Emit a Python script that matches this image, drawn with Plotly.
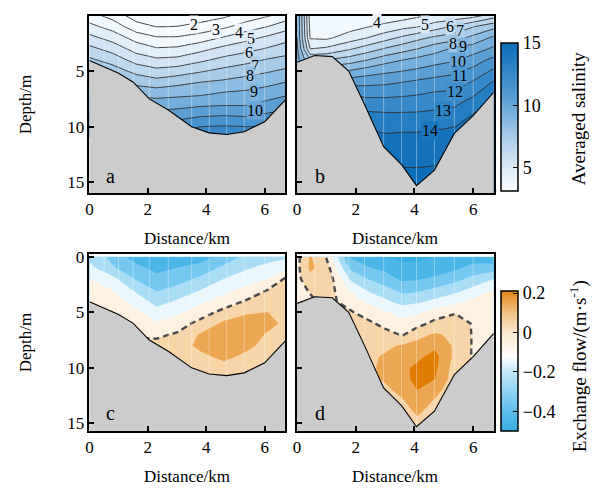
import numpy as np
import plotly.graph_objects as go

# ---------------- data ----------------
# Panel a / c grid (distance km, depth m)
X_AC = [0, 0.8, 1.6, 2.3, 3.0, 3.8, 4.6, 5.4, 6.1, 6.7]
D_AC = [0, 1, 2, 3, 4, 5, 6, 7, 8, 9, 10, 11]
# salinity, one list per distance column (depth 0..11)
SAL_A = [
    [3.4, 4.3, 5.3, 6.3, 7.2, 8.0, 8.8, 9.6, 10.4, 11.2, 12.0, 12.9],
    [2.6, 3.6, 4.6, 5.6, 6.6, 7.5, 8.4, 9.2, 10.0, 10.8, 11.6, 12.4],
    [1.5, 2.4, 3.6, 4.6, 5.6, 6.7, 7.7, 8.7, 9.7, 10.7, 11.6, 12.4],
    [1.4, 1.98, 3.1, 4.1, 5.2, 6.3, 7.4, 8.6, 9.5, 10.5, 11.4, 12.3],
    [1.4, 2.02, 3.1, 4.2, 5.3, 6.5, 7.7, 8.7, 9.6, 10.6, 11.6, 12.4],
    [1.5, 2.3, 3.5, 4.7, 5.8, 6.9, 8.0, 8.8, 9.8, 10.9, 12.0, 12.8],
    [1.8, 2.8, 4.1, 5.3, 6.3, 7.3, 8.2, 9.1, 9.9, 11.0, 12.1, 13.0],
    [2.4, 3.5, 4.7, 5.7, 6.7, 7.6, 8.5, 9.2, 9.9, 10.9, 12.0, 12.8],
    [2.9, 4.0, 5.2, 6.1, 7.1, 7.9, 8.7, 9.5, 10.3, 11.2, 12.1, 12.8],
    [3.4, 4.6, 5.6, 6.5, 7.3, 8.2, 9.0, 9.8, 10.6, 11.4, 12.2, 12.9],
]
# exchange flow (m/s), one list per distance column
FLOW_C = [
    [-0.23, -0.17, -0.10, -0.06, -0.03, -0.02, -0.01, -0.01, -0.01, -0.01, -0.01, -0.01],
    [-0.33, -0.29, -0.17, -0.10, -0.06, -0.03, -0.01, 0.01, 0.02, 0.02, 0.02, 0.02],
    [-0.45, -0.37, -0.31, -0.22, -0.14, -0.08, -0.04, -0.01, 0.02, 0.03, 0.03, 0.03],
    [-0.46, -0.43, -0.37, -0.31, -0.24, -0.16, -0.09, -0.02, 0.03, 0.05, 0.05, 0.05],
    [-0.46, -0.40, -0.34, -0.27, -0.19, -0.12, -0.05, 0.01, 0.06, 0.06, 0.05, 0.05],
    [-0.45, -0.36, -0.28, -0.20, -0.12, -0.05, 0.03, 0.11, 0.12, 0.08, 0.05, 0.04],
    [-0.36, -0.28, -0.20, -0.13, -0.06, 0.03, 0.12, 0.16, 0.17, 0.12, 0.07, 0.05],
    [-0.27, -0.21, -0.15, -0.07, 0.01, 0.09, 0.14, 0.15, 0.12, 0.08, 0.05, 0.04],
    [-0.24, -0.17, -0.10, 0.00, 0.06, 0.10, 0.13, 0.09, 0.07, 0.05, 0.04, 0.04],
    [-0.22, -0.13, 0.01, 0.04, 0.06, 0.07, 0.08, 0.07, 0.05, 0.04, 0.04, 0.04],
]

# Panel b / d grid
X_BD = [0, 0.45, 1.0, 1.8, 2.4, 3.0, 3.6, 4.1, 4.7, 5.4, 6.0, 6.7]
D_BD = [0, 1, 2, 3, 4, 5, 6, 7, 8, 9, 10, 11, 12, 13, 14, 15, 16]
SAL_B = [
    [9.0, 9.0, 9.0, 9.2, 9.4, 9.6, 10.0, 10.5, 11.0, 11.5, 12.0, 12.5, 13.0, 13.5, 14.0, 14.5, 15.0],
    [3.5, 3.7, 3.9, 5.0, 7.0, 9.0, 10.5, 11.5, 12.3, 13.0, 13.5, 14.0, 14.3, 14.6, 14.8, 15.0, 15.0],
    [3.5, 3.6, 3.8, 5.2, 7.0, 8.8, 10.2, 11.3, 12.2, 13.0, 13.5, 14.0, 14.3, 14.6, 14.8, 15.0, 15.0],
    [3.3, 3.6, 4.5, 5.9, 7.5, 9.1, 10.6, 11.8, 12.8, 13.5, 14.0, 14.3, 14.6, 14.8, 15.0, 15.0, 15.0],
    [3.3, 3.95, 5.0, 6.5, 8.0, 9.5, 10.7, 11.7, 12.5, 13.3, 13.9, 14.3, 14.6, 14.8, 15.0, 15.0, 15.0],
    [3.3, 4.3, 5.6, 7.1, 8.6, 9.8, 10.8, 11.7, 12.5, 13.2, 13.7, 14.2, 14.6, 15.0, 15.1, 15.2, 15.2],
    [3.5, 4.7, 6.2, 7.6, 9.0, 10.0, 11.0, 11.8, 12.5, 13.2, 13.8, 14.2, 14.5, 14.8, 15.1, 15.2, 15.3],
    [3.8, 4.95, 6.7, 8.0, 9.3, 10.2, 11.2, 11.9, 12.6, 13.2, 13.8, 14.2, 14.5, 14.8, 15.1, 15.3, 15.4],
    [4.2, 5.5, 7.2, 8.6, 9.6, 10.5, 11.4, 12.1, 12.7, 13.3, 13.9, 14.2, 14.5, 14.9, 15.1, 15.2, 15.3],
    [4.3, 6.2, 7.6, 9.2, 9.9, 10.8, 11.5, 12.2, 12.9, 13.4, 14.0, 14.4, 14.7, 14.9, 15.0, 15.1, 15.2],
    [4.6, 6.95, 8.3, 9.5, 10.5, 11.3, 12.1, 12.8, 13.5, 14.1, 14.5, 14.7, 14.9, 15.0, 15.1, 15.2, 15.2],
    [5.5, 7.7, 9.2, 10.2, 11.3, 12.2, 13.1, 13.8, 14.3, 14.6, 14.8, 15.0, 15.0, 15.1, 15.1, 15.2, 15.2],
]
FLOW_D = [
    [-0.03, -0.03, -0.03, -0.04, -0.04, -0.04, -0.04, -0.04, -0.04, -0.04, -0.04, -0.04, -0.04, -0.04, -0.04, -0.04, -0.04],
    [0.11, 0.12, 0.07, 0.01, -0.02, -0.02, -0.02, -0.02, -0.02, -0.02, -0.02, -0.02, -0.02, -0.02, -0.02, -0.02, -0.02],
    [-0.01, 0.05, 0.08, 0.06, 0.03, 0.02, 0.02, 0.02, 0.02, 0.02, 0.02, 0.02, 0.02, 0.02, 0.02, 0.02, 0.02],
    [-0.41, -0.32, -0.21, -0.11, -0.04, 0.01, 0.03, 0.03, 0.03, 0.03, 0.03, 0.03, 0.03, 0.03, 0.03, 0.03, 0.03],
    [-0.47, -0.39, -0.30, -0.21, -0.12, -0.04, 0.02, 0.06, 0.08, 0.08, 0.08, 0.08, 0.08, 0.08, 0.08, 0.08, 0.08],
    [-0.50, -0.43, -0.35, -0.27, -0.18, -0.09, -0.03, 0.03, 0.08, 0.11, 0.12, 0.11, 0.08, 0.06, 0.06, 0.06, 0.06],
    [-0.52, -0.48, -0.42, -0.33, -0.24, -0.14, -0.07, -0.01, 0.11, 0.15, 0.18, 0.17, 0.13, 0.09, 0.07, 0.07, 0.07],
    [-0.52, -0.48, -0.41, -0.32, -0.22, -0.12, -0.04, 0.07, 0.13, 0.18, 0.22, 0.23, 0.20, 0.15, 0.11, 0.08, 0.06],
    [-0.50, -0.46, -0.38, -0.28, -0.18, -0.06, 0.03, 0.11, 0.18, 0.23, 0.22, 0.20, 0.13, 0.09, 0.07, 0.07, 0.07],
    [-0.48, -0.42, -0.33, -0.23, -0.13, -0.01, 0.05, 0.08, 0.08, 0.07, 0.05, 0.04, 0.04, 0.04, 0.04, 0.04, 0.04],
    [-0.45, -0.37, -0.27, -0.17, -0.08, -0.02, -0.01, -0.01, -0.01, -0.01, -0.01, -0.01, -0.01, -0.01, -0.01, -0.01, -0.01],
    [-0.48, -0.35, -0.20, -0.10, -0.06, -0.04, -0.03, -0.03, -0.03, -0.03, -0.03, -0.03, -0.03, -0.03, -0.03, -0.03, -0.03],
]

# Bathymetry (bed depth along the transect)
BED_AC_X = [0, 0.5, 1.0, 1.5, 2.05, 2.7, 3.5, 4.1, 4.7, 5.3, 6.0, 6.7]
BED_AC_D = [4.05, 4.6, 5.2, 6.0, 7.5, 8.5, 10.0, 10.55, 10.7, 10.45, 9.55, 7.6]
BED_BD_X = [0, 0.6, 1.2, 1.76, 2.3, 2.95, 3.56, 4.07, 4.68, 5.36, 6.0, 6.7]
BED_BD_D = [4.2, 3.6, 3.7, 5.0, 8.0, 11.8, 13.4, 15.3, 13.9, 10.6, 9.0, 6.9]

# contour labels (value, x, depth)
LAB_A = [(2, 3.58, 0.78), (3, 4.32, 1.22), (4, 5.13, 1.57), (5, 5.54, 2.1), (6, 5.45, 3.33),
         (7, 5.67, 4.5), (8, 5.5, 5.4), (9, 5.62, 6.85), (10, 5.67, 8.5)]
LAB_B = [(4, 2.71, 0.63), (5, 4.35, 0.78), (6, 5.2, 0.98), (7, 5.54, 1.37), (8, 5.32, 2.54),
         (9, 5.67, 2.83), (10, 5.48, 4.15), (11, 5.54, 5.39), (12, 5.37, 6.86), (13, 4.97, 8.5),
         (14, 4.52, 10.3)]

SAL_STOPS = [(3.1, '#f7fbff'), (5.0, '#dbe9f6'), (7.0, '#b2d2ec'), (9.0, '#80b5de'),
             (11.0, '#5198d0'), (13.0, '#2e83c5'), (15.0, '#0b6cb8')]
FLOW_STOPS = [(-0.5, '#38ade4'), (-0.4, '#5dbeeb'), (-0.3, '#8fd2f2'), (-0.2, '#c4e8f8'),
              (-0.12, '#ffffff'), (0.0, '#fbe6cc'), (0.1, '#f2c385'), (0.2, '#e38a1e'), (0.21, '#e07b00')]

FONT = 'Liberation Serif'
W, H = 602, 493


def hex2rgb(h):
    h = h.lstrip('#')
    return [int(h[i:i + 2], 16) for i in (0, 2, 4)]


def color_at(stops, v):
    vals = [s[0] for s in stops]
    v = min(max(v, vals[0]), vals[-1])
    for i in range(len(stops) - 1):
        v0, c0 = stops[i]
        v1, c1 = stops[i + 1]
        if v0 <= v <= v1:
            t = 0 if v1 == v0 else (v - v0) / (v1 - v0)
            a, b = hex2rgb(c0), hex2rgb(c1)
            rgb = [round(a[k] + t * (b[k] - a[k])) for k in range(3)]
            return 'rgb(%d,%d,%d)' % tuple(rgb)
    return stops[-1][1]


def bar_scale(stops):
    lo, hi = stops[0][0], stops[-1][0]
    return [[(v - lo) / (hi - lo), c] for v, c in stops]


def contour_scale(stops, lo, hi, n=121):
    return [[p, color_at(stops, lo + p * (hi - lo))] for p in np.linspace(0, 1, n)]


SAL_START, SAL_SIZE, SAL_N = 1.001, 1.0, 16
SAL_LO, SAL_HI = SAL_START - SAL_SIZE / 2, SAL_START + (SAL_N - 0.5) * SAL_SIZE
FL_START, FL_SIZE, FL_N = -0.5005, 0.1, 9
FL_LO, FL_HI = FL_START - FL_SIZE / 2, FL_START + (FL_N - 0.5) * FL_SIZE

fig = go.Figure()

panels = [
    ('x', 'y', X_AC, D_AC, SAL_A, 'sal', BED_AC_X, BED_AC_D),
    ('x2', 'y2', X_BD, D_BD, SAL_B, 'sal', BED_BD_X, BED_BD_D),
    ('x3', 'y3', X_AC, D_AC, FLOW_C, 'flow', BED_AC_X, BED_AC_D),
    ('x4', 'y4', X_BD, D_BD, FLOW_D, 'flow', BED_BD_X, BED_BD_D),
]

for xa, ya, xs, ds, cols, kind, bx, bd in panels:
    z = np.array(cols).T
    if kind == 'sal':
        fig.add_trace(go.Contour(
            x=xs, y=ds, z=z, xaxis=xa, yaxis=ya, showscale=False, hoverinfo='skip',
            zmin=SAL_LO, zmax=SAL_HI, autocontour=False,
            colorscale=contour_scale(SAL_STOPS, SAL_LO, SAL_HI),
            contours=dict(start=SAL_START, end=SAL_START + (SAL_N - 1) * SAL_SIZE, size=SAL_SIZE,
                          coloring='fill', showlines=True),
            line=dict(color='#2e2e2e', width=0.9, smoothing=0)))
    else:
        fig.add_trace(go.Contour(
            x=xs, y=ds, z=z, xaxis=xa, yaxis=ya, showscale=False, hoverinfo='skip',
            zmin=FL_LO, zmax=FL_HI, autocontour=False,
            colorscale=contour_scale(FLOW_STOPS, FL_LO, FL_HI),
            contours=dict(start=FL_START, end=FL_START + (FL_N - 1) * FL_SIZE, size=FL_SIZE,
                          coloring='fill', showlines=False),
            line=dict(width=0, smoothing=0)))
    # faint mesh columns in the water
    for nx, nd in zip(bx[1:-1], bd[1:-1]):
        fig.add_trace(go.Scatter(x=[nx, nx], y=[-0.5, nd], xaxis=xa, yaxis=ya, mode='lines',
                                 line=dict(color='rgba(255,255,255,0.35)', width=1),
                                 hoverinfo='skip', showlegend=False))
    if kind == 'flow':
        fig.add_trace(go.Contour(
            x=xs, y=ds, z=z, xaxis=xa, yaxis=ya, showscale=False, hoverinfo='skip',
            autocontour=False,
            contours=dict(start=-0.001, end=-0.001, size=1, coloring='none', showlines=True),
            line=dict(color='#4a4a4a', width=2.4, dash='6px,4px', smoothing=0)))
    # bed (gray) polygon
    px = [-0.2] + list(bx) + [6.9, 6.9, -0.2]
    pdp = [bd[0]] + list(bd) + [bd[-1], 17, 17]
    fig.add_trace(go.Scatter(x=px, y=pdp, xaxis=xa, yaxis=ya, fill='toself', mode='lines',
                             fillcolor='#cccccc', line=dict(width=0), hoverinfo='skip',
                             showlegend=False))
    fig.add_trace(go.Scatter(x=bx, y=bd, xaxis=xa, yaxis=ya, mode='lines',
                             line=dict(color='black', width=1.1), hoverinfo='skip',
                             showlegend=False))

# colour bars (continuous)
fig.add_trace(go.Scatter(
    x=[-50], y=[5], xaxis='x', yaxis='y', mode='markers', showlegend=False, hoverinfo='skip',
    marker=dict(color=[SAL_STOPS[0][0]], cmin=SAL_STOPS[0][0], cmax=SAL_STOPS[-1][0],
                colorscale=bar_scale(SAL_STOPS), showscale=True,
                colorbar=dict(x=500 / W, xanchor='left', xpad=0, y=1 - 113 / H, yanchor='middle',
                              len=150 / H, lenmode='fraction', thickness=17, ypad=0,
                              outlinewidth=1.5, outlinecolor='black',
                              ticks='inside', ticklen=5, tickwidth=1.2, tickcolor='black',
                              tickvals=[5, 10, 15], tickfont=dict(family=FONT, size=18, color='black')))))
fig.add_trace(go.Scatter(
    x=[-50], y=[5], xaxis='x3', yaxis='y3', mode='markers', showlegend=False, hoverinfo='skip',
    marker=dict(color=[0], cmin=FLOW_STOPS[0][0], cmax=FLOW_STOPS[-1][0],
                colorscale=bar_scale(FLOW_STOPS), showscale=True,
                colorbar=dict(x=500 / W, xanchor='left', xpad=0, y=1 - 361 / H, yanchor='middle',
                              len=142 / H, lenmode='fraction', thickness=17, ypad=0,
                              outlinewidth=1.5, outlinecolor='black',
                              ticks='inside', ticklen=5, tickwidth=1.2, tickcolor='black',
                              tickvals=[-0.4, -0.2, 0, 0.2], tickfont=dict(family=FONT, size=18, color='black')))))

# axes
XD_L = [86 / W, 283 / W]
XD_R = [295 / W, 493 / W]
YD_T = [1 - 190 / H, 1 - 10 / H]
YD_B = [1 - 432 / H, 1 - 252 / H]
common = dict(showline=True, linewidth=1.5, linecolor='black', mirror=True, ticks='inside',
              ticklen=5, tickwidth=1.5, tickcolor='black', showgrid=False, zeroline=False,
              tickfont=dict(family=FONT, size=17, color='black'))
layout_axes = {}
for i, (xd, yd, yr, yt, show_y) in enumerate([
        (XD_L, YD_T, [15.95, 0.03], [5, 10, 15], True),
        (XD_R, YD_T, [15.95, 0.03], [5, 10, 15], False),
        (XD_L, YD_B, [15.68, -0.25], [0, 5, 10, 15], True),
        (XD_R, YD_B, [15.68, -0.25], [0, 5, 10, 15], False)]):
    sfx = '' if i == 0 else str(i + 1)
    layout_axes['xaxis' + sfx] = dict(common, domain=xd, range=[0, 6.7], tickvals=[0, 2, 4, 6],
                                      anchor='y' + sfx)
    layout_axes['yaxis' + sfx] = dict(common, domain=yd, range=yr, tickvals=yt,
                                      anchor='x' + sfx, showticklabels=show_y)


def paper_text(text, xp, yp, size, angle=0):
    return dict(text=text, x=xp / W, y=1 - yp / H, xref='paper', yref='paper', showarrow=False,
                xanchor='center', yanchor='middle', textangle=angle,
                font=dict(family=FONT, size=size, color='black'))


ann = []
for xc, yp in [(184.5, 236), (394, 236), (184.5, 478), (394, 478)]:
    ann.append(paper_text('Distance/km', xc, yp, 17))
for yp in [100, 342]:
    ann.append(paper_text('Depth/m', 22, yp, 17, -90))
for t, xp, yp in [('a', 107, 173), ('b', 318, 173), ('c', 107, 414), ('d', 318, 414)]:
    ann.append(paper_text(t, xp, yp, 20))
ann.append(paper_text('Averaged salinity', 578, 114, 19, -90))
ann.append(paper_text('Exchange flow/(m·s<sup>-1</sup>)', 578, 366, 19, -90))
for labs, xa, ya in [(LAB_A, 'x', 'y'), (LAB_B, 'x2', 'y2')]:
    for v, lx, ld in labs:
        ann.append(dict(text=str(v), x=lx, y=ld, xref=xa, yref=ya, showarrow=False,
                        xanchor='center', yanchor='middle',
                        bgcolor=color_at(SAL_STOPS, v), borderpad=0,
                        font=dict(family=FONT, size=16, color='black')))

fig.update_layout(width=W, height=H, margin=dict(l=0, r=0, t=0, b=0), paper_bgcolor='white',
                  plot_bgcolor='white', showlegend=False, annotations=ann,
                  font=dict(family=FONT, color='black'), **layout_axes)

fig.write_html('out.html')
